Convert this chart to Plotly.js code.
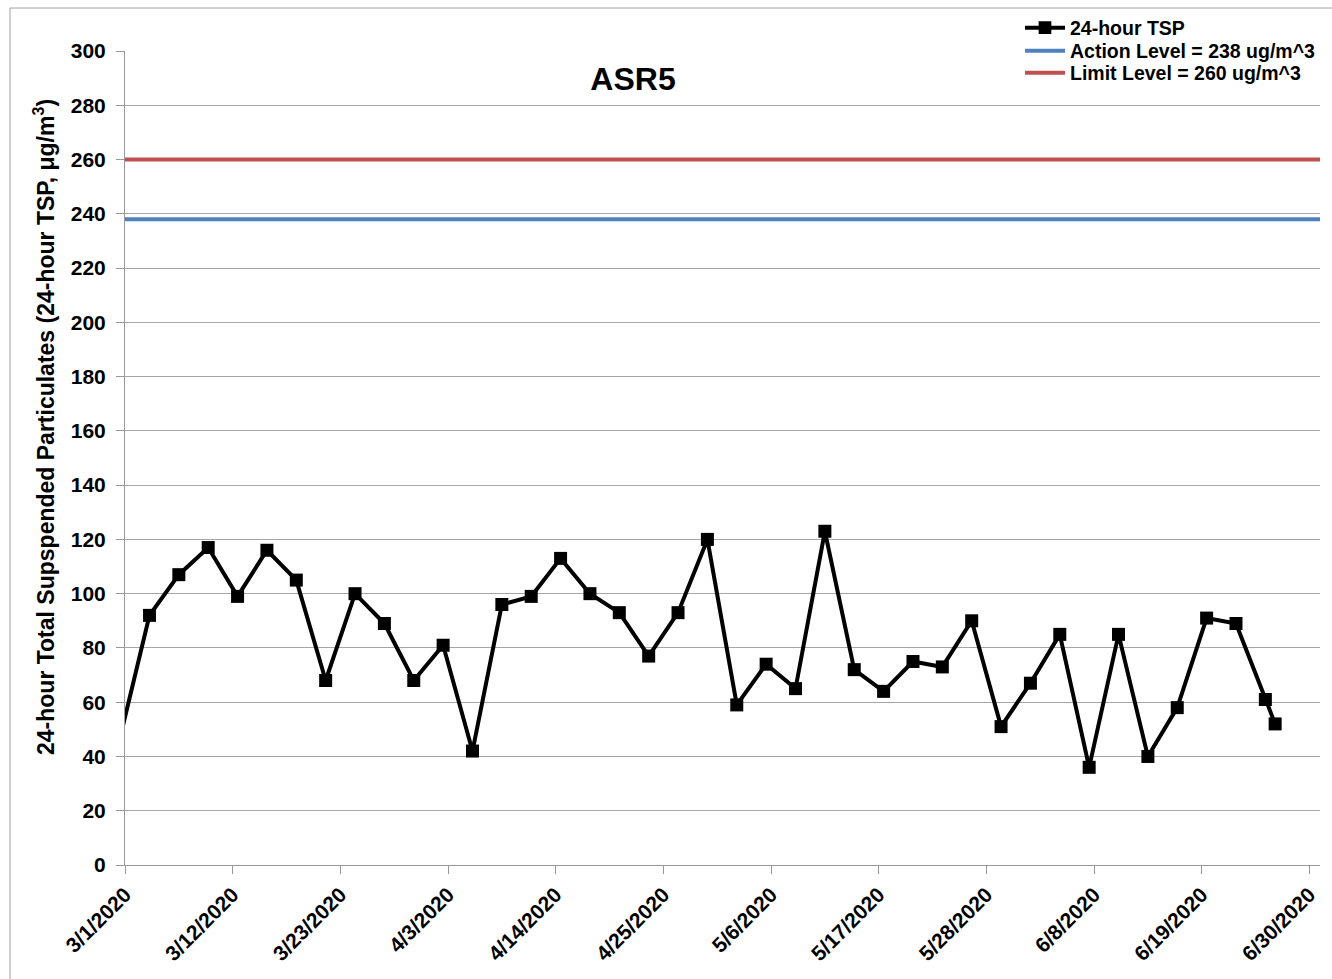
<!DOCTYPE html>
<html>
<head>
<meta charset="utf-8">
<script src="https://cdn.plot.ly/plotly-3.0.1.min.js"></script>
<style>
  html, body { margin: 0; padding: 0; background: #fff; }
  #chart { width: 1332px; height: 979px; }
</style>
</head>
<body>
<div id="chart"></div>
<script>
// ---- data ----
const sampleDates = [
  '2020-02-29 12:00', '2020-03-03 12:00', '2020-03-06 12:00', '2020-03-09 12:00',
  '2020-03-12 12:00', '2020-03-15 12:00', '2020-03-18 12:00', '2020-03-21 12:00',
  '2020-03-24 12:00', '2020-03-27 12:00', '2020-03-30 12:00', '2020-04-02 12:00',
  '2020-04-05 12:00', '2020-04-08 12:00', '2020-04-11 12:00', '2020-04-14 12:00',
  '2020-04-17 12:00', '2020-04-20 12:00', '2020-04-23 12:00', '2020-04-26 12:00',
  '2020-04-29 12:00', '2020-05-02 12:00', '2020-05-05 12:00', '2020-05-08 12:00',
  '2020-05-11 12:00', '2020-05-14 12:00', '2020-05-17 12:00', '2020-05-20 12:00',
  '2020-05-23 12:00', '2020-05-26 12:00', '2020-05-29 12:00', '2020-06-01 12:00',
  '2020-06-04 12:00', '2020-06-07 12:00', '2020-06-10 12:00', '2020-06-13 12:00',
  '2020-06-16 12:00', '2020-06-19 12:00', '2020-06-22 12:00', '2020-06-25 12:00',
  '2020-06-26 12:00'
];
const tspValues = [
  47, 92, 107, 117, 99, 116, 105, 68, 100, 89, 68, 81,
  42, 96, 99, 113, 100, 93, 77, 93, 120, 59, 74, 65,
  123, 72, 64, 75, 73, 90, 51, 67, 85, 36, 85, 40,
  58, 91, 89, 61, 52
];
const actionLevel = 238;
const limitLevel = 260;
const axisStart = '2020-03-01';
const axisEnd = '2020-07-01 02:00';
const tickDates = ['2020-03-01', '2020-03-12', '2020-03-23', '2020-04-03', '2020-04-14',
  '2020-04-25', '2020-05-06', '2020-05-17', '2020-05-28', '2020-06-08', '2020-06-19', '2020-06-30'];
const tickLabels = ['3/1/2020', '3/12/2020', '3/23/2020', '4/3/2020', '4/14/2020',
  '4/25/2020', '5/6/2020', '5/17/2020', '5/28/2020', '6/8/2020', '6/19/2020', '6/30/2020'];
const seriesNames = ['24-hour TSP', 'Action Level = 238 ug/m^3', 'Limit Level = 260 ug/m^3'];
const chartTitle = 'ASR5';
const yTitle = '24-hour Total Supspended Particulates (24-hour TSP, μg/m<sup>3</sup>)';

const FONT = 'Arial, "Liberation Sans", sans-serif';
const levelDates = [axisStart, axisEnd];

const traces = [
  {
    x: sampleDates, y: tspValues, name: seriesNames[0], type: 'scatter', mode: 'lines+markers',
    legend: 'legend',
    line: { color: '#000000', width: 4 },
    marker: {
      symbol: 'square', color: '#000000', opacity: 1,
      line: { width: 0 },
      size: sampleDates.map(d => (d < axisStart ? 0 : 13))
    }
  },
  {
    x: levelDates, y: levelDates.map(() => actionLevel), name: seriesNames[1],
    legend: 'legend2',
    type: 'scatter', mode: 'lines', line: { color: '#4F81BD', width: 4 }
  },
  {
    x: levelDates, y: levelDates.map(() => limitLevel), name: seriesNames[2],
    legend: 'legend3',
    type: 'scatter', mode: 'lines', line: { color: '#C0504D', width: 4 }
  }
];

function legendAt(yCenterPx) {
  return {
    xref: 'paper', yref: 'paper',
    x: (1020 - 125) / 1195, xanchor: 'left',
    y: (865 - yCenterPx) / 814, yanchor: 'middle',
    bgcolor: 'rgba(255,255,255,0)', borderwidth: 0,
    font: { family: FONT, size: 19.5, weight: 'bold', color: '#000000' },
    itemwidth: 40, tracegroupgap: 0
  };
}

const layout = {
  width: 1332, height: 979,
  margin: { l: 125, r: 12, t: 51, b: 114, autoexpand: false },
  paper_bgcolor: '#ffffff', plot_bgcolor: '#ffffff',
  font: { family: FONT, color: '#000000' },
  title: {
    text: chartTitle, x: 633 / 1332, xanchor: 'center', y: 1 - 79 / 979, yanchor: 'middle',
    font: { family: FONT, size: 32, weight: 'bold', color: '#000000' }
  },
  showlegend: true,
  legend: legendAt(28),
  legend2: legendAt(51),
  legend3: legendAt(73),
  xaxis: {
    type: 'date',
    range: [axisStart, axisEnd],
    tickmode: 'array', tickvals: tickDates, ticktext: tickLabels,
    tickangle: -45,
    tickfont: { family: FONT, size: 21, weight: 'bold', color: '#000000' },
    ticks: 'outside', ticklen: 8, tickcolor: '#999999', tickwidth: 1,
    showline: true, linecolor: '#999999', linewidth: 1,
    showgrid: false, zeroline: false, fixedrange: true, automargin: false
  },
  yaxis: {
    range: [0, 300], dtick: 20, tick0: 0,
    tickfont: { family: FONT, size: 21, weight: 'bold', color: '#000000' },
    ticks: 'outside', ticklen: 8, tickcolor: '#999999', tickwidth: 1,
    ticklabelstandoff: 6,
    showline: true, linecolor: '#999999', linewidth: 1,
    showgrid: true, gridcolor: '#a6a6a6', gridwidth: 1,
    zeroline: false, fixedrange: true, automargin: false
  },
  annotations: [
    {
      text: yTitle, textangle: -90, showarrow: false,
      xref: 'paper', yref: 'paper',
      x: (44 - 125) / 1195, xanchor: 'center',
      y: (865 - 427) / 814, yanchor: 'middle',
      font: { family: FONT, size: 23, weight: 'bold', color: '#000000' }
    }
  ],
  shapes: [
    {
      type: 'rect', xref: 'paper', yref: 'paper',
      x0: (10 - 125) / 1195, x1: 1.05, y0: -0.3, y1: (865 - 8) / 814,
      line: { color: '#a0a0a0', width: 1 }, fillcolor: 'rgba(0,0,0,0)', layer: 'below'
    }
  ]
};

Plotly.newPlot('chart', traces, layout, { displayModeBar: false, staticPlot: true });
</script>
</body>
</html>
